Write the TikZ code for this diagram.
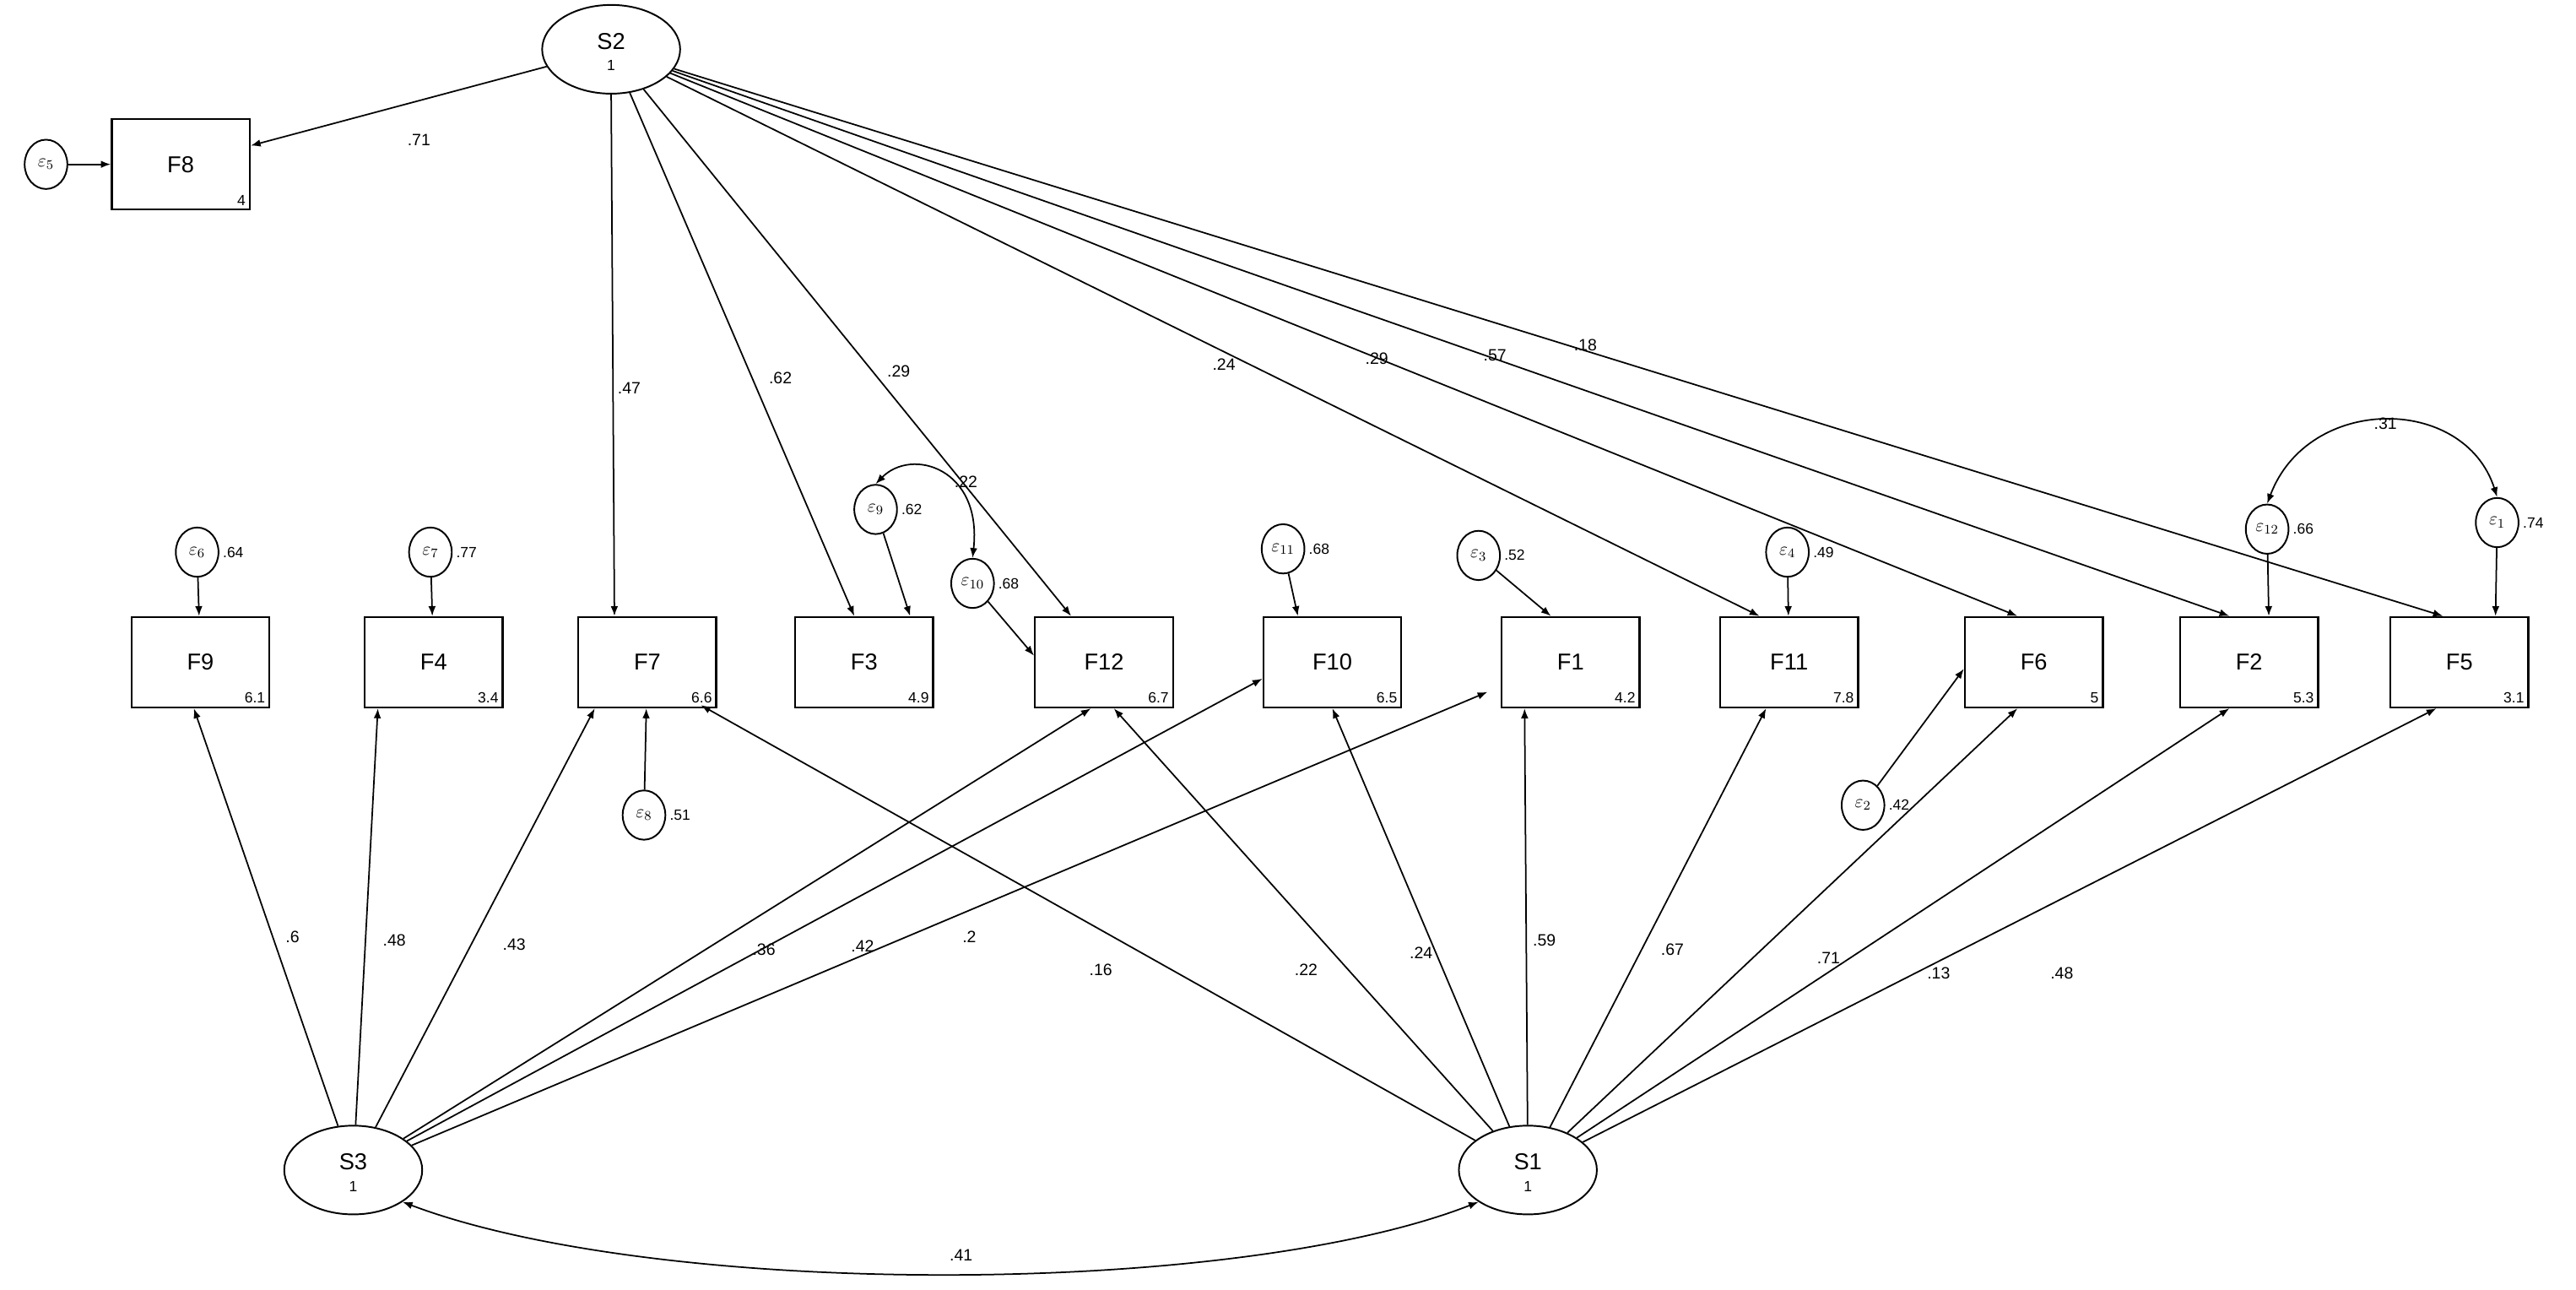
\documentclass[tikz,border=0pt]{standalone}
\usepackage{fontspec}
\setmainfont{Liberation Sans}
\usetikzlibrary{arrows.meta,shapes.geometric}
\begin{document}
\begin{tikzpicture}[x=1pt,y=-1pt,
  lat/.style={draw,ellipse,line width=1pt,minimum width=84pt,minimum height=54pt,inner sep=0pt},
  box/.style={draw,rectangle,line width=1.2pt,minimum width=84pt,minimum height=55pt,inner sep=0pt,font=\fontsize{14}{14}\selectfont},
  err/.style={draw,ellipse,line width=1pt,minimum width=26pt,minimum height=30pt,inner sep=0pt,font=\fontsize{11}{11}\selectfont},
  val/.style={font=\fontsize{9}{9}\selectfont,inner sep=0pt},
  lab/.style={font=\fontsize{10}{10}\selectfont,inner sep=0pt},
  arr/.style={-{Latex[length=6pt,width=4.5pt]},line width=0.9pt},
  barr/.style={{Latex[length=6pt,width=4.5pt]}-{Latex[length=6pt,width=4.5pt]},line width=0.9pt}]
\useasboundingbox (0,0) rectangle (1568,785);
% latent
\node[lat] (S2) at (372,30) {};
\node[font=\fontsize{14}{14}\selectfont] (S2t) at (372,25) {S2};
\node[val] (S2v) at (372,40) {1};
\node[lat] (S3) at (215,712) {};
\node[font=\fontsize{14}{14}\selectfont] (S3t) at (215,707) {S3};
\node[val] (S3v) at (215,722) {1};
\node[lat] (S1) at (930,712) {};
\node[font=\fontsize{14}{14}\selectfont] (S1t) at (930,707) {S1};
\node[val] (S1v) at (930,722) {1};
% boxes
\foreach \n/\x/\y/\v in {F8/110/100/4,F9/122/403/6.1,F4/264/403/3.4,F7/394/403/6.6,F3/526/403/4.9,F12/672/403/6.7,F10/811/403/6.5,F1/956/403/4.2,F11/1089/403/7.8,F6/1238/403/5,F2/1369/403/5.3,F5/1497/403/3.1}{
  \node[box] (\n) at (\x,\y) {\n};
  \node[val,anchor=south east] (\n v) at ([xshift=-3pt,yshift=3pt]\n.south east) {\v};
}
% errors
\foreach \n/\s/\x/\y/\v in {e5/5/28/100/{},e6/6/120/336/.64,e7/7/262/336/.77,e8/8/392/496/.51,e9/9/533/310/.62,e10/10/592/355/.68,e11/11/781/334/.68,e3/3/900/338/.52,e4/4/1088/336/.49,e2/2/1134/490/.42,e12/12/1380/322/.66,e1/1/1520/318/.74}{
  \node[err] (\n) at (\x,\y) {$\varepsilon_{\s}$};
  \node[val,anchor=west] (\n v) at ([xshift=2pt]\n.east) {\v};
}
\draw[arr] (e5) -- (F8);
\draw[arr] (e6) -- (F9);
\draw[arr] (e7) -- (F4);
\draw[arr] (e8) -- (F7);
\draw[arr] (e9) -- ([xshift=28pt]F3.north);
\draw[arr] (e10) -- ([yshift=4pt]F12.west);
\draw[arr] (e11) -- ([xshift=-21pt]F10.north);
\draw[arr] (e3) -- ([xshift=-12pt]F1.north);
\draw[arr] (e4) -- (F11);
\draw[arr] (e2) -- ([yshift=-4pt]F6.west);
\draw[arr] (e12) -- ([xshift=12pt]F2.north);
\draw[arr] (e1) -- ([xshift=22pt]F5.north);
\draw[barr] (e9.north) .. controls (555,272) and (598,285) .. (e10.north);
\node[lab] (c22) at (588,293) {.22};
\draw[barr] (e12.north) .. controls (1405,240) and (1500,240) .. (e1.north);
\node[lab] (c31) at (1452,258) {.31};
\draw[barr] (S3.south east) .. controls (400,790) and (750,790) .. (S1.south west);
\node[lab] (c41) at (585,764) {.41};
% S2 paths
\draw[arr] (S2) -- (F8);
\draw[arr] (S2.south) -- ([xshift=-20pt]F7.north);
\draw[arr] (S2) -- ([xshift=-6pt]F3.north);
\draw[arr] (S2) -- ([xshift=-20pt]F12.north);
\draw[arr] (S2) -- ([xshift=-18pt]F11.north);
\draw[arr] (S2) -- ([xshift=-10pt]F6.north);
\draw[arr] (S2) -- ([xshift=-12pt]F2.north);
\draw[arr] (S2) -- ([xshift=-10pt]F5.north);
\node[lab] at (255,85) {.71};
\node[lab] at (383,236) {.47};
\node[lab] at (475,230) {.62};
\node[lab] at (547,226) {.29};
\node[lab] at (745,222) {.24};
\node[lab] at (838,218) {.29};
\node[lab] at (910,216) {.57};
\node[lab] at (965,210) {.18};
% S3 paths
\draw[arr] (S3) -- ([xshift=-4pt]F9.south);
\draw[arr] (S3) -- ([xshift=-34pt]F4.south);
\draw[arr] (S3) -- ([xshift=-32pt]F7.south);
\draw[arr] (S3) -- ([xshift=-8pt]F12.south);
\draw[arr] (S3) -- ([yshift=-10pt]F10.west);
\draw[arr] (S3) -- ([yshift=10pt,xshift=-8pt]F1.south west);
\node[lab] at (178,570) {.6};
\node[lab] at (240,572) {.48};
\node[lab] at (313,575) {.43};
\node[lab] at (465,578) {.36};
\node[lab] at (525,576) {.42};
\node[lab] at (590,570) {.2};
% S1 paths
\draw[arr] (S1) -- ([xshift=-10pt,yshift=2pt]F7.south east);
\draw[arr] (S1) -- ([xshift=6pt]F12.south);
\draw[arr] (S1) -- ([xshift=0pt]F10.south);
\draw[arr] (S1) -- ([xshift=-28pt]F1.south);
\draw[arr] (S1) -- ([xshift=-14pt]F11.south);
\draw[arr] (S1) -- ([xshift=-10pt]F6.south);
\draw[arr] (S1) -- ([xshift=-12pt]F2.south);
\draw[arr] (S1) -- ([xshift=-14pt]F5.south);
\node[lab] at (670,590) {.16};
\node[lab] at (795,590) {.22};
\node[lab] at (865,580) {.24};
\node[lab] at (940,572) {.59};
\node[lab] at (1018,578) {.67};
\node[lab] at (1113,583) {.71};
\node[lab] at (1180,592) {.13};
\node[lab] at (1255,592) {.48};
\end{tikzpicture}
\end{document}
